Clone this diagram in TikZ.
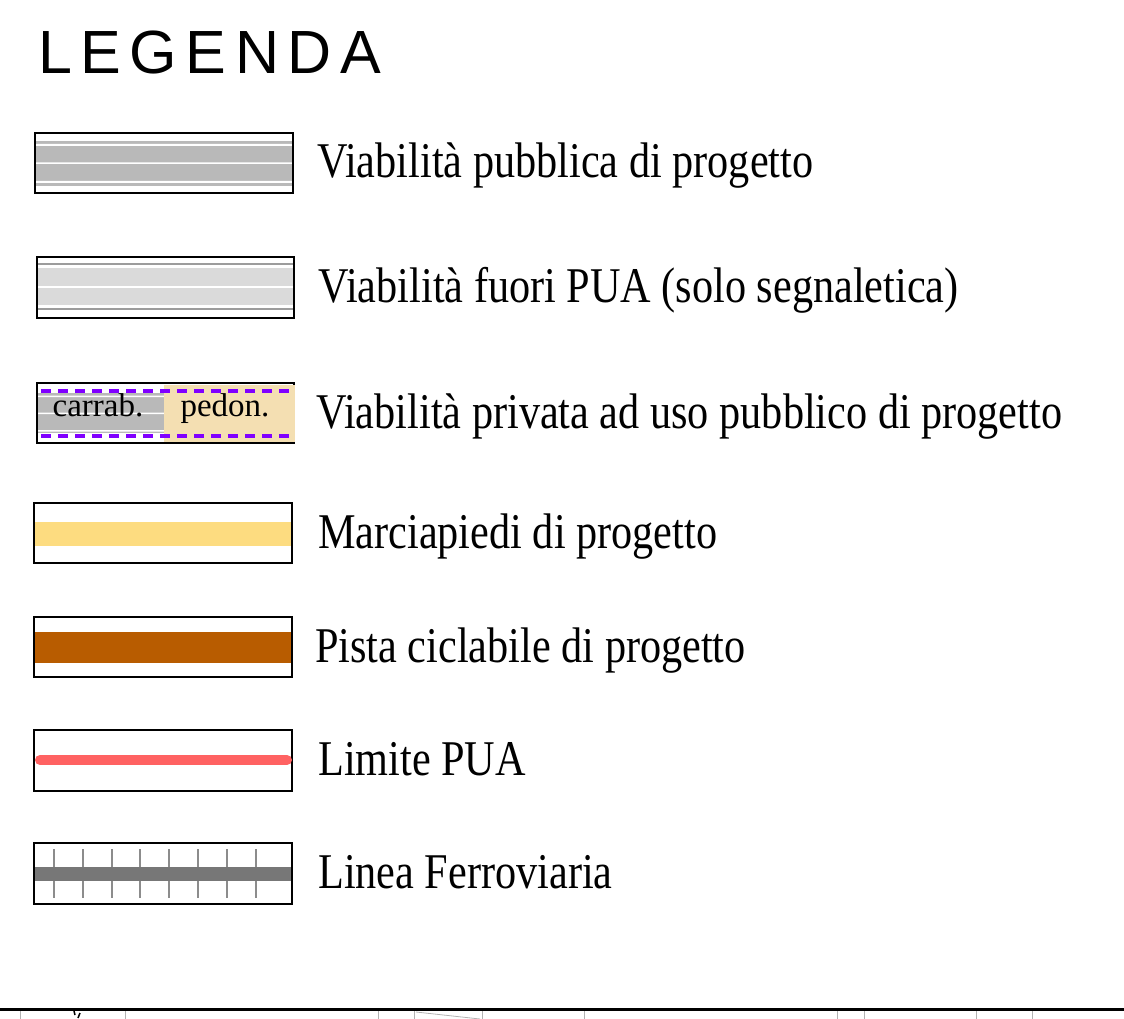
\documentclass[tikz,border=0pt]{standalone}
\usepackage{fontspec}
\setmainfont{Liberation Serif}
\newfontfamily\legfont[FakeStretch=0.845]{Liberation Serif}
\newfontfamily\titlefont[LetterSpace=14]{Liberation Sans}
\usetikzlibrary{positioning}

\definecolor{roadgray}{HTML}{B9B9B9}
\definecolor{lightroad}{HTML}{DADADA}
\definecolor{edgegray}{HTML}{9C9C9C}
\definecolor{dashviolet}{HTML}{8000FF}
\definecolor{pedtan}{HTML}{F4DFB2}
\definecolor{walkyellow}{HTML}{FDDC80}
\definecolor{bikebrown}{HTML}{B85C00}
\definecolor{limitred}{HTML}{FF6262}
\definecolor{railgray}{HTML}{777777}
\definecolor{tiegray}{HTML}{8C8C8C}

\tikzset{
  legbox/.style={draw=black, line width=2pt},
  legtext/.style={anchor=base west, inner sep=0pt, font=\legfont\fontsize{50}{56}\selectfont},
  smalltext/.style={anchor=base, inner sep=0pt, font=\fontsize{33}{36}\selectfont},
}

\begin{document}
\begin{tikzpicture}[x=1pt, y=-1pt]
		\useasboundingbox (0,0) rectangle (1124,1019);
		
		% TITLE
		\node[anchor=base west, inner sep=0pt, font=\titlefont\fontsize{61}{66}\selectfont] (titolo) at (38,74) {LEGENDA};
		
		% 1. VIABILITA PUBBLICA
		\fill[roadgray] (35,141) rectangle (293,186);
		\fill[white] (35,144) rectangle (293,146) (35,162.5) rectangle (293,164) (35,181) rectangle (293,183);
		\draw[legbox] (35,133) rectangle (293,193);
		\node[legtext] (pubblica) at (317,178) {Viabilità pubblica di progetto};
		
		% 2. VIABILITA FUORI PUA
		\fill[lightroad] (37,268) rectangle (294,305);
		\fill[white] (37,286) rectangle (294,288);
		\draw[edgegray, line width=2pt] (37,264) -- (294,264) (37,309) -- (294,309);
		\draw[legbox] (37,257) rectangle (294,318);
		\node[legtext] (fuori) at (318,302) {Viabilità fuori PUA (solo segnaletica)};
		
		% 3. VIABILITA PRIVATA AD USO PUBBLICO
		\draw[legbox] (37,383) rectangle (294,443);
		\fill[roadgray] (38,393) rectangle (164,433);
		\fill[white] (38,395.5) rectangle (164,397) (38,412.5) rectangle (164,414) (38,430) rectangle (164,431.5);
		\fill[pedtan] (164,385) rectangle (295,441.5);
		\draw[dashviolet, line width=3.5pt, dash pattern=on 10pt off 7pt] (41,391) -- (292,391) (41,436) -- (292,436);
		\node[smalltext] (carrab) at (98,416) {carrab.};
		\node[smalltext] (pedon) at (225,416) {pedon.};
		\node[legtext] (privata) at (316,428) {Viabilità privata ad uso pubblico di progetto};
		
		% 4. MARCIAPIEDI
		\fill[walkyellow] (34,522) rectangle (292,546);
		\draw[legbox] (34,503) rectangle (292,563);
		\node[legtext] (marciapiedi) at (318,548) {Marciapiedi di progetto};
		
		% 5. PISTA CICLABILE
		\fill[bikebrown] (34,632) rectangle (292,663);
		\draw[legbox] (34,617) rectangle (292,677);
		\node[legtext] (pista) at (315,662) {Pista ciclabile di progetto};
		
		% 6. LIMITE PUA
		\draw[legbox] (34,730) rectangle (292,791);
		\draw[limitred, line width=10pt, line cap=round] (40,760) -- (287,760);
		\node[legtext] (limite) at (318,775) {Limite PUA};
		
		% 7. LINEA FERROVIARIA
		\foreach \k in {0,...,7}
			\draw[tiegray, line width=2pt] ({54+28.8*\k},849) -- ({54+28.8*\k},898);
		\fill[railgray] (34,867) rectangle (292,881);
		\draw[legbox] (34,843) rectangle (292,904);
		\node[legtext] (ferrovia) at (318,888) {Linea Ferroviaria};
		
		% CUT EDGE OF THE DRAWING BELOW
		\draw[black, line width=3pt] (0,1009) -- (1124,1009);
		\foreach \x in {20,125,378,414,482,584,837,864,976,1032}
			\draw[black!30, line width=0.8pt] (\x,1011) -- (\x,1019);
		\draw[black!30, line width=0.8pt] (416,1012) -- (480,1019);
		\draw[black, line width=1.5pt] (74,1011) -- (75,1015) (80,1013) -- (78,1018);
	\end{tikzpicture}
\end{document}
